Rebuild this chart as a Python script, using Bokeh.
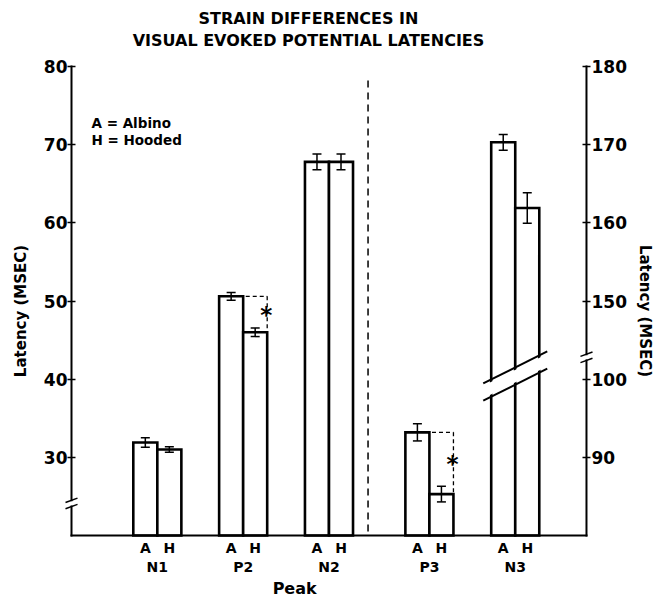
from bokeh.plotting import figure
from bokeh.models import Range1d, LinearAxis, FixedTicker, ColumnDataSource, Whisker, TeeHead
from bokeh.core.properties import value
from bokeh.embed import file_html
from bokeh.resources import INLINE

# ---------------- data ----------------
peaks = ["N1", "P2", "N2", "P3", "N3"]
albino = [31.9, 50.6, 67.8, 93.2, 170.3]        # msec
hooded = [31.0, 46.0, 67.8, 85.3, 161.9]        # msec
albino_sem = [0.6, 0.5, 1.0, 1.1, 1.0]
hooded_sem = [0.35, 0.55, 1.0, 1.0, 1.95]
peak_axis = ["left", "left", "left", "right", "right"]
significant = [False, True, False, True, False]

left_ticks = [30, 40, 50, 60, 70, 80]
left_tick_labels = ["30", "40", "50", "60", "70", "80"]
right_tick_labels = ["90", "100", "150", "160", "170", "180"]
strain_labels = ["A", "H"]
legend_lines = ["A = Albino", "H = Hooded"]
title_lines = ["STRAIN DIFFERENCES IN", "VISUAL EVOKED POTENTIAL LATENCIES"]
axis_title = "Latency (MSEC)"
x_title = "Peak"

# ---------------- layout constants ----------------
FONT = "DejaVu Sans"
W = 0.28            # bar width (x units)
GAP = 0.17          # extra gap after the divider
DIVIDER_X = 3.455
LEFT_BREAK = 24.1
RIGHT_BREAK = 42.8
N3_BREAK_Y = 40.4


def to_plot(v, axis):
    """Map a latency onto the common (left-axis) plot scale."""
    if axis == "left":
        return v
    # right axis: 90,100 -> 30,40 ; 150..180 -> 50..80 (broken axis)
    return v - 60 if v <= 120 else v - 100


centers = [i + 1 + (GAP if i >= 3 else 0) for i in range(len(peaks))]
a_top = [to_plot(v, ax) for v, ax in zip(albino, peak_axis)]
h_top = [to_plot(v, ax) for v, ax in zip(hooded, peak_axis)]

bars = ColumnDataSource(dict(
    left=[c - W for c in centers] + centers,
    right=centers + [c + W for c in centers],
    top=a_top + h_top,
))
err = ColumnDataSource(dict(
    x=[c - W / 2 for c in centers] + [c + W / 2 for c in centers],
    upper=[t + e for t, e in zip(a_top, albino_sem)] + [t + e for t, e in zip(h_top, hooded_sem)],
    lower=[t - e for t, e in zip(a_top, albino_sem)] + [t - e for t, e in zip(h_top, hooded_sem)],
))

p = figure(width=662, height=598,
           x_range=Range1d(-0.8272, 6.8857), y_range=Range1d(11.943, 88.443),
           output_backend="svg", toolbar_location=None, title=None,
           min_border=0, x_axis_type=None, y_axis_type=None)
p.outline_line_color = None
p.background_fill_color = "white"
p.border_fill_color = "white"

# ---------------- axes (ticks + labels) ----------------
def style_axis(ax, size="17px"):
    ax.axis_line_color = None
    ax.minor_tick_line_color = None
    ax.major_label_text_font = FONT
    ax.major_label_text_font_style = "bold"
    ax.major_label_text_font_size = size
    ax.major_label_text_color = "black"
    ax.axis_label_text_font = FONT
    ax.axis_label_text_font_style = "bold"
    ax.axis_label_text_font_size = "15px"
    ax.axis_label_text_color = "black"


yl = LinearAxis(fixed_location=0, bounds=(17.5, 80), ticker=FixedTicker(ticks=left_ticks),
                axis_label=axis_title)
style_axis(yl)
yl.major_label_overrides = {t: s for t, s in zip(left_ticks, left_tick_labels)}
yl.major_tick_in = 4
yl.major_tick_out = 4
yl.major_tick_line_width = 1.5
yl.major_label_standoff = 0
yl.axis_label_standoff = 11
p.add_layout(yl, "left")

yr = LinearAxis(fixed_location=6, bounds=(17.5, 80), ticker=FixedTicker(ticks=left_ticks),
                axis_label=axis_title)
style_axis(yr)
yr.major_label_overrides = {t: s for t, s in zip(left_ticks, right_tick_labels)}
yr.major_tick_in = 4
yr.major_tick_out = 4
yr.major_tick_line_width = 1.5
yr.major_label_standoff = 1
yr.axis_label_standoff = 6
p.add_layout(yr, "right")

ab_ticks = [c - W / 2 for c in centers] + [c + W / 2 for c in centers]
ab_labels = [strain_labels[0]] * len(centers) + [strain_labels[1]] * len(centers)
xa = LinearAxis(fixed_location=20, bounds=(0, 6), ticker=FixedTicker(ticks=ab_ticks))
style_axis(xa, "14px")
xa.major_label_overrides = {t: s for t, s in zip(ab_ticks, ab_labels)}
xa.major_tick_in = 0
xa.major_tick_out = 0
xa.major_label_standoff = 4
p.add_layout(xa, "below")

xp = LinearAxis(fixed_location=20, bounds=(0, 6), ticker=FixedTicker(ticks=centers))
style_axis(xp, "14px")
xp.major_label_overrides = {t: s for t, s in zip(centers, peaks)}
xp.major_tick_in = 0
xp.major_tick_out = 0
xp.major_label_standoff = 23
p.add_layout(xp, "below")

PEAK_X = 2.6
xt = LinearAxis(fixed_location=20, bounds=(0, 6), ticker=FixedTicker(ticks=[PEAK_X]))
style_axis(xt, "16px")
xt.major_label_overrides = {PEAK_X: x_title}
xt.major_tick_in = 0
xt.major_tick_out = 0
xt.major_label_standoff = 43
p.add_layout(xt, "below")

# ---------------- bars ----------------
p.quad(left="left", right="right", bottom=20, top="top", source=bars,
       fill_color="white", line_color="black", line_width=2.6, line_join="miter")

wh = Whisker(source=err, base="x", upper="upper", lower="lower", dimension="height",
             line_color="black", line_width=1.5,
             upper_head=TeeHead(size=9, line_width=1.5, line_color="black"),
             lower_head=TeeHead(size=9, line_width=1.5, line_color="black"),
             level="overlay")
p.add_layout(wh)

# break of the N3 bars
i3 = len(peaks) - 1
c3 = centers[i3]
k = 5.48          # slope of the break strokes (y units per x unit)
hx = 0.373
g = 1.1
bx = [c3 - W - 0.05, c3 + W + 0.05]
p.patch(x=[bx[0], bx[1], bx[1], bx[0]],
        y=[N3_BREAK_Y + g - 0.3 + k * (bx[0] - c3), N3_BREAK_Y + g - 0.3 + k * (bx[1] - c3),
           N3_BREAK_Y - g + 0.3 + k * (bx[1] - c3), N3_BREAK_Y - g + 0.3 + k * (bx[0] - c3)],
        fill_color="white", line_color=None)
p.multi_line(xs=[[c3 - hx, c3 + hx], [c3 - hx, c3 + hx]],
             ys=[[N3_BREAK_Y + g - k * hx, N3_BREAK_Y + g + k * hx],
                 [N3_BREAK_Y - g - k * hx, N3_BREAK_Y - g + k * hx]],
             line_color="black", line_width=2)

# ---------------- axis lines with breaks ----------------
gb = 0.4
p.multi_line(xs=[[0, 0], [0, 0], [6, 6], [6, 6], [0, 6]],
             ys=[[20, LEFT_BREAK - gb], [LEFT_BREAK + gb, 80],
                 [20, RIGHT_BREAK - gb], [RIGHT_BREAK + gb, 80], [20, 20]],
             line_color="black", line_width=2, line_cap="square")
bxs, bys = [], []
for xb, yb in [(0, LEFT_BREAK), (6, RIGHT_BREAK)]:
    for s in (-1, 1):
        bxs.append([xb - 0.07, xb + 0.07])
        bys.append([yb + s * gb - 0.28, yb + s * gb + 0.28])
p.multi_line(xs=bxs, ys=bys, line_color="black", line_width=1.5)

# divider between left-scale and right-scale peaks
p.segment(x0=[DIVIDER_X], y0=[20.5], x1=[DIVIDER_X], y1=[78.8],
          line_color="black", line_width=1.5, line_dash="7 5")

# ---------------- significance brackets ----------------
sx, sy, ax_, ay_ = [], [], [], []
for i, sig in enumerate(significant):
    if not sig:
        continue
    c = centers[i]
    sx += [[c + 0.03, c + W], [c + W, c + W]]
    sy += [[a_top[i], a_top[i]], [a_top[i], h_top[i]]]
    ax_.append(c + W)
    ay_.append((a_top[i] + h_top[i]) / 2)
p.multi_line(xs=sx, ys=sy, line_color="black", line_width=1.3, line_dash="4 3")
p.text(x=ax_, y=ay_, text=["*"] * len(ax_), text_font=value(FONT), text_font_style="bold",
       text_font_size="23px", text_align="center", text_baseline="alphabetic",
       x_offset=-1, y_offset=1, text_color="black")

# ---------------- texts ----------------
p.text(x=[2.761, 2.761], y=[86.1, 83.33], text=title_lines, text_font=value(FONT),
       text_font_style="bold", text_font_size="16px", text_align="center",
       text_baseline="alphabetic", text_color="black")
p.text(x=[0.233, 0.233], y=[72.83, 70.56], text=legend_lines, text_font=value(FONT),
       text_font_style="bold", text_font_size="13.5px", text_align="left",
       text_baseline="alphabetic", text_color="black")

open("out.html", "w").write(file_html(p, INLINE))
